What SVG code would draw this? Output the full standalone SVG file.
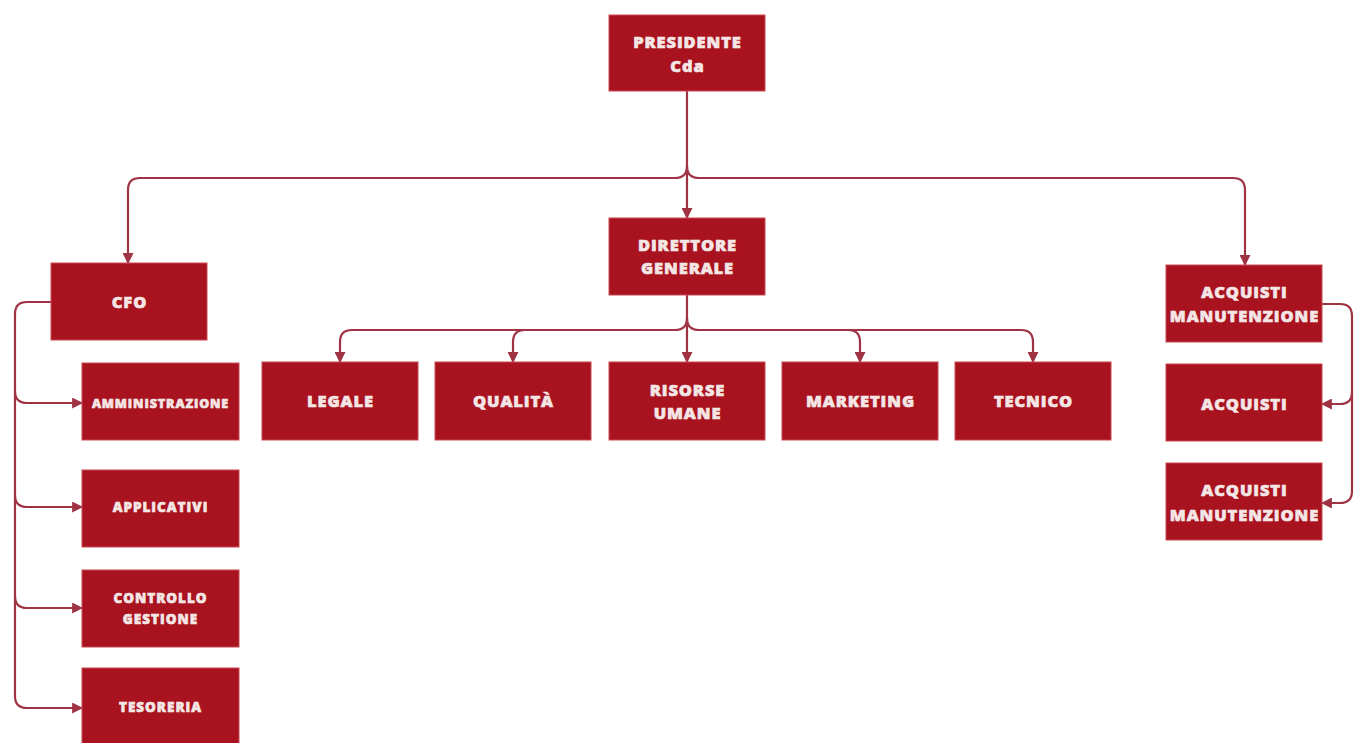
<svg xmlns="http://www.w3.org/2000/svg" width="1355" height="743" viewBox="0 0 1355 743">
<defs>
<style>
.box{fill:#a8131f;stroke:#c94a52;stroke-width:1}
.t{font-family:"Open Sans","DejaVu Sans",sans-serif;font-weight:800;font-size:16.5px;letter-spacing:0.9px;fill:#f5e6e6;stroke:#f5e6e6;stroke-width:0.6;text-anchor:middle}
.s{font-size:13.5px;letter-spacing:1px}
.c{fill:none;stroke:#9f3344;stroke-width:2.2}
</style>
<marker id="a" viewBox="0 0 10 10" refX="9" refY="5" markerWidth="5" markerHeight="5" orient="auto">
<path d="M0,0 L10,5 L0,10 z" fill="#9f3344"/>
</marker>
</defs>
<rect width="1355" height="743" fill="#ffffff"/>
<g id="connectors">
<path class="c" d="M687,91 V218" marker-end="url(#a)"/>
<path class="c" d="M687,166 Q687,178 675,178 H140 Q128,178 128,190 V263" marker-end="url(#a)"/>
<path class="c" d="M687,166 Q687,178 699,178 H1233 Q1245,178 1245,190 V265" marker-end="url(#a)"/>
<path class="c" d="M687,295 V362" marker-end="url(#a)"/>
<path class="c" d="M687,318 Q687,330 675,330 H352 Q340,330 340,342 V362" marker-end="url(#a)"/>
<path class="c" d="M675,330 H525 Q513,330 513,342 V362" marker-end="url(#a)"/>
<path class="c" d="M687,318 Q687,330 699,330 H1021 Q1033,330 1033,342 V362" marker-end="url(#a)"/>
<path class="c" d="M699,330 H848 Q860,330 860,342 V362" marker-end="url(#a)"/>
<path class="c" d="M51,302 H27 Q15,302 15,314 V696 Q15,708 27,708 H82" marker-end="url(#a)"/>
<path class="c" d="M15,391 Q15,403 27,403 H82" marker-end="url(#a)"/>
<path class="c" d="M15,495 Q15,507 27,507 H82" marker-end="url(#a)"/>
<path class="c" d="M15,596 Q15,608 27,608 H82" marker-end="url(#a)"/>
<path class="c" d="M1322,304 H1340 Q1352,304 1352,316 V491 Q1352,503 1340,503 H1322" marker-end="url(#a)"/>
<path class="c" d="M1352,392 Q1352,404 1340,404 H1322" marker-end="url(#a)"/>
</g>
<g id="presidente"><rect class="box" x="609" y="15" width="156" height="76"/><text class="t" x="687.5" y="48">PRESIDENTE</text><text class="t" x="687.5" y="72">Cda</text></g>
<g id="direttore"><rect class="box" x="609" y="218" width="156" height="77"/><text class="t" x="687.5" y="251">DIRETTORE</text><text class="t" x="687.5" y="274">GENERALE</text></g>
<g id="cfo"><rect class="box" x="51" y="263" width="156" height="77"/><text class="t" x="129.5" y="308">CFO</text></g>
<g id="acq-man"><rect class="box" x="1166" y="265" width="156" height="77"/><text class="t" x="1244.5" y="298">ACQUISTI</text><text class="t" x="1244.5" y="322">MANUTENZIONE</text></g>
<g id="legale"><rect class="box" x="262" y="362" width="156" height="78"/><text class="t" x="340.5" y="407">LEGALE</text></g>
<g id="qualita"><rect class="box" x="435" y="362" width="156" height="78"/><text class="t" x="513.5" y="407">QUALITÀ</text></g>
<g id="risorse"><rect class="box" x="609" y="362" width="156" height="78"/><text class="t" x="687.5" y="396">RISORSE</text><text class="t" x="687.5" y="419">UMANE</text></g>
<g id="marketing"><rect class="box" x="782" y="362" width="156" height="78"/><text class="t" x="860.5" y="407">MARKETING</text></g>
<g id="tecnico"><rect class="box" x="955" y="362" width="156" height="78"/><text class="t" x="1033.5" y="407">TECNICO</text></g>
<g id="amministrazione"><rect class="box" x="82" y="363" width="157" height="77"/><text class="t s" x="160.5" y="408" style="font-size:12.5px;letter-spacing:0.9px">AMMINISTRAZIONE</text></g>
<g id="applicativi"><rect class="box" x="82" y="470" width="157" height="77"/><text class="t s" x="160.5" y="512">APPLICATIVI</text></g>
<g id="controllo"><rect class="box" x="82" y="570" width="157" height="77"/><text class="t s" x="160.5" y="603">CONTROLLO</text><text class="t s" x="160.5" y="624">GESTIONE</text></g>
<g id="tesoreria"><rect class="box" x="82" y="668" width="157" height="78"/><text class="t s" x="160.5" y="712">TESORERIA</text></g>
<g id="acquisti"><rect class="box" x="1166" y="364" width="156" height="77"/><text class="t" x="1244.5" y="410">ACQUISTI</text></g>
<g id="acq-man2"><rect class="box" x="1166" y="463" width="156" height="77"/><text class="t" x="1244.5" y="496">ACQUISTI</text><text class="t" x="1244.5" y="521">MANUTENZIONE</text></g>
</svg>
